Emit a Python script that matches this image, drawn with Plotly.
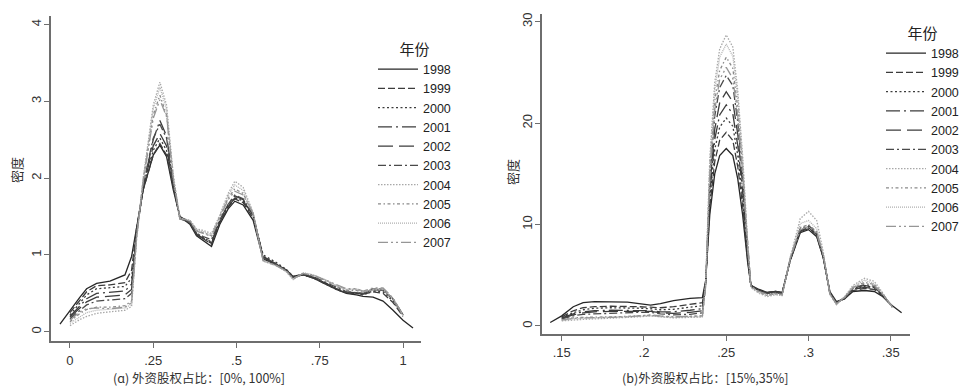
import plotly.graph_objects as go

YEARS = ["1998", "1999", "2000", "2001", "2002", "2003", "2004", "2005", "2006", "2007"]

# ---------- panel (a): share 0..1 ----------
X_A = [-0.03, 0.0, 0.03, 0.05, 0.08, 0.12, 0.165, 0.185, 0.20, 0.22, 0.25, 0.27, 0.29, 0.31,
       0.33, 0.36, 0.38, 0.40, 0.425, 0.45, 0.475, 0.495, 0.52, 0.55, 0.58, 0.62, 0.65, 0.67,
       0.70, 0.73, 0.77, 0.80, 0.83, 0.86, 0.88, 0.91, 0.94, 0.97, 1.0, 1.03]
A_1998 = [0.10, 0.28, 0.45, 0.56, 0.63, 0.66, 0.74, 0.98, 1.35, 1.85, 2.30, 2.43, 2.28, 1.85, 1.50, 1.40,
          1.25, 1.19, 1.11, 1.40, 1.60, 1.70, 1.65, 1.45, 0.95, 0.87, 0.80, 0.72, 0.75, 0.70, 0.63, 0.55,
          0.50, 0.48, 0.46, 0.45, 0.40, 0.28, 0.15, 0.05]
A_1999 = [None, 0.25, 0.42, 0.52, 0.60, 0.61, 0.64, 0.80, 1.35, 1.85, 2.30, 2.45, 2.30, 1.88, 1.50, 1.42,
          1.27, 1.21, 1.14, 1.42, 1.62, 1.73, 1.68, 1.48, 0.98, 0.88, 0.80, 0.71, 0.74, 0.70, 0.62, 0.56,
          0.52, 0.50, 0.49, 0.52, 0.50, 0.38, 0.20, None]
A_2000 = [None, 0.22, 0.38, 0.48, 0.56, 0.57, 0.59, 0.70, 1.32, 1.86, 2.36, 2.52, 2.36, 1.92, 1.50, 1.43,
          1.28, 1.23, 1.16, 1.44, 1.64, 1.75, 1.70, 1.50, 1.00, 0.90, 0.81, 0.72, 0.74, 0.70, 0.62, 0.55,
          0.51, 0.50, 0.48, 0.53, 0.52, 0.40, 0.21, None]
A_2001 = [None, 0.20, 0.34, 0.43, 0.50, 0.51, 0.53, 0.62, 1.30, 1.90, 2.50, 2.75, 2.55, 1.95, 1.48, 1.42,
          1.27, 1.22, 1.17, 1.45, 1.66, 1.77, 1.72, 1.52, 0.98, 0.88, 0.80, 0.71, 0.75, 0.71, 0.63, 0.56,
          0.52, 0.51, 0.50, 0.55, 0.54, 0.42, 0.22, None]
A_2002 = [None, 0.19, 0.31, 0.39, 0.45, 0.46, 0.48, 0.55, 1.28, 1.88, 2.42, 2.58, 2.42, 1.90, 1.48, 1.43,
          1.26, 1.21, 1.15, 1.43, 1.63, 1.74, 1.70, 1.52, 0.97, 0.87, 0.80, 0.71, 0.74, 0.70, 0.62, 0.55,
          0.51, 0.49, 0.49, 0.56, 0.55, 0.42, 0.22, None]
A_2003 = [None, 0.17, 0.28, 0.35, 0.40, 0.41, 0.43, 0.50, 1.30, 1.92, 2.52, 2.70, 2.52, 1.93, 1.47, 1.42,
          1.28, 1.24, 1.20, 1.46, 1.66, 1.78, 1.73, 1.52, 0.96, 0.87, 0.80, 0.70, 0.75, 0.72, 0.64, 0.57,
          0.52, 0.51, 0.50, 0.55, 0.55, 0.43, 0.22, None]
A_2004 = [None, 0.08, 0.16, 0.20, 0.24, 0.26, 0.28, 0.33, 1.20, 2.00, 2.95, 3.25, 2.95, 2.05, 1.48, 1.45,
          1.34, 1.32, 1.28, 1.52, 1.80, 1.96, 1.88, 1.55, 0.92, 0.86, 0.78, 0.68, 0.76, 0.74, 0.67, 0.60,
          0.55, 0.55, 0.52, 0.55, 0.55, 0.43, 0.22, None]
A_2005 = [None, 0.13, 0.24, 0.29, 0.32, 0.32, 0.34, 0.40, 1.25, 1.98, 2.82, 3.08, 2.82, 2.00, 1.47, 1.44,
          1.32, 1.29, 1.25, 1.50, 1.74, 1.86, 1.80, 1.54, 0.93, 0.86, 0.79, 0.69, 0.76, 0.73, 0.66, 0.59,
          0.54, 0.54, 0.51, 0.56, 0.56, 0.43, 0.21, None]
A_2006 = [None, 0.11, 0.20, 0.25, 0.28, 0.29, 0.31, 0.36, 1.22, 2.00, 2.90, 3.18, 2.90, 2.02, 1.48, 1.45,
          1.33, 1.30, 1.26, 1.51, 1.77, 1.91, 1.84, 1.55, 0.92, 0.86, 0.78, 0.68, 0.77, 0.74, 0.67, 0.60,
          0.55, 0.56, 0.52, 0.55, 0.55, 0.43, 0.21, None]
A_2007 = [None, 0.15, 0.26, 0.30, 0.31, 0.30, 0.32, 0.38, 1.22, 1.96, 2.78, 3.02, 2.80, 2.00, 1.47, 1.45,
          1.31, 1.28, 1.24, 1.49, 1.72, 1.83, 1.78, 1.54, 0.93, 0.86, 0.79, 0.69, 0.76, 0.74, 0.67, 0.61,
          0.56, 0.56, 0.53, 0.57, 0.57, 0.44, 0.22, None]

# ---------- panel (b): share 0.15..0.35 ----------
X_B = [0.143, 0.150, 0.157, 0.163, 0.170, 0.180, 0.190, 0.197, 0.204, 0.210, 0.218, 0.228, 0.2355,
       0.2375, 0.240, 0.243, 0.246, 0.250, 0.254, 0.257, 0.260, 0.263, 0.265, 0.270, 0.275, 0.280,
       0.284, 0.289, 0.295, 0.300, 0.305, 0.309, 0.313, 0.317, 0.322, 0.327, 0.334, 0.340, 0.345,
       0.351, 0.3566]
B_1998 = [0.35, 1.0, 1.9, 2.3, 2.4, 2.4, 2.35, 2.2, 2.05, 2.2, 2.5, 2.72, 2.8,
          4.5, 11.0, 15.0, 16.8, 17.5, 16.8, 14.5, 10.9, 6.3,
          4.0, 3.6, 3.3, 3.4, 3.3, 6.5, 9.2, 9.5, 8.8, 6.7, 3.4, 2.4, 2.7, 3.4, 3.5, 3.4, 2.9, 2.0, 1.3]
B_1999 = [None, 0.9, 1.5, 1.8, 1.9, 1.95, 1.95, 1.9, 1.85, 1.8, 1.9, 2.1, 2.3,
          4.3, 11.7, 16.2, 18.3, 19.1, 18.3, 15.7, 11.8, 6.6,
          4.0, 3.5, 3.3, 3.4, 3.3, 6.6, 9.4, 9.7, 9.0, 6.8, 3.3, 2.3, 2.7, 3.5, 3.7, 3.6, 3.0, 1.9, None]
B_2000 = [None, 0.85, 1.3, 1.6, 1.75, 1.8, 1.8, 1.75, 1.7, 1.6, 1.65, 1.85, 2.0,
          4.2, 12.4, 17.4, 19.6, 20.5, 19.7, 16.8, 12.5, 6.8,
          3.9, 3.5, 3.2, 3.3, 3.2, 6.6, 9.5, 9.8, 9.1, 6.8, 3.2, 2.3, 2.8, 3.6, 3.9, 3.8, 3.1, 1.9, None]
B_2001 = [None, 0.8, 1.2, 1.4, 1.5, 1.55, 1.55, 1.55, 1.5, 1.4, 1.4, 1.55, 1.7,
          4.1, 13.0, 18.4, 20.8, 21.8, 20.9, 17.8, 13.2, 7.0,
          4.0, 3.5, 3.3, 3.4, 3.3, 6.5, 9.3, 9.6, 8.9, 6.7, 3.3, 2.3, 2.7, 3.6, 3.8, 3.7, 3.0, 1.9, None]
B_2002 = [None, 0.75, 1.1, 1.3, 1.4, 1.45, 1.45, 1.5, 1.45, 1.3, 1.25, 1.35, 1.5,
          4.1, 13.6, 19.4, 22.0, 23.1, 22.1, 18.9, 13.8, 7.3,
          3.9, 3.5, 3.2, 3.3, 3.2, 6.6, 9.4, 9.7, 9.0, 6.8, 3.2, 2.2, 2.8, 3.7, 4.0, 3.8, 3.1, 1.9, None]
B_2003 = [None, 0.7, 1.0, 1.15, 1.2, 1.25, 1.3, 1.35, 1.35, 1.2, 1.1, 1.15, 1.3,
          4.1, 14.4, 20.7, 23.5, 24.7, 23.7, 20.1, 14.7, 7.6,
          3.9, 3.4, 3.2, 3.3, 3.2, 6.7, 9.6, 9.9, 9.2, 6.9, 3.2, 2.2, 2.8, 3.7, 4.1, 3.9, 3.1, 1.9, None]
B_2004 = [None, 0.5, 0.6, 0.65, 0.7, 0.75, 0.8, 0.9, 1.0, 0.9, 0.8, 0.85, 0.9,
          4.2, 16.5, 24.0, 27.3, 28.7, 27.5, 23.2, 16.7, 8.3,
          3.8, 3.2, 2.9, 3.1, 3.0, 6.8, 10.6, 11.3, 10.4, 7.3, 3.1, 2.1, 2.9, 4.0, 4.7, 4.4, 3.3, 1.8, None]
B_2005 = [None, 0.6, 0.8, 0.85, 0.9, 0.9, 0.95, 1.0, 1.05, 0.95, 0.9, 0.95, 1.0,
          4.1, 15.3, 22.2, 25.2, 26.5, 25.4, 21.5, 15.6, 7.9,
          3.9, 3.3, 3.0, 3.2, 3.1, 6.7, 9.7, 10.0, 9.3, 7.0, 3.2, 2.2, 2.8, 3.8, 4.3, 4.1, 3.2, 1.9, None]
B_2006 = [None, 0.55, 0.7, 0.75, 0.8, 0.85, 0.9, 0.95, 1.0, 0.9, 0.85, 0.9, 0.9,
          4.1, 16.0, 23.2, 26.5, 27.8, 26.6, 22.5, 16.3, 8.1,
          3.8, 3.3, 3.0, 3.1, 3.0, 6.8, 10.1, 10.4, 9.6, 7.1, 3.1, 2.1, 2.9, 3.9, 4.5, 4.2, 3.2, 1.8, None]
B_2007 = [None, 0.6, 0.75, 0.8, 0.85, 0.85, 0.9, 1.0, 1.1, 1.0, 0.9, 0.95, 1.0,
          3.9, 14.7, 21.3, 24.3, 25.5, 24.4, 20.7, 15.1, 7.7,
          3.9, 3.4, 3.1, 3.2, 3.1, 6.7, 9.5, 9.8, 9.1, 6.9, 3.2, 2.2, 2.8, 3.8, 4.2, 4.0, 3.1, 1.9, None]

A_TICKS = [0, 0.25, 0.5, 0.75, 1]
A_TICKTEXT = ["0", ".25", ".5", ".75", "1"]
A_YTICKS = [0, 1, 2, 3, 4]
B_TICKS = [0.15, 0.2, 0.25, 0.3, 0.35]
B_TICKTEXT = [".15", ".2", ".25", ".3", ".35"]
B_YTICKS = [0, 10, 20, 30]

A_SERIES = [A_1998, A_1999, A_2000, A_2001, A_2002, A_2003, A_2004, A_2005, A_2006, A_2007]
B_SERIES = [B_1998, B_1999, B_2000, B_2001, B_2002, B_2003, B_2004, B_2005, B_2006, B_2007]

STYLES = [
    ("#262626", "solid"),
    ("#3c3c3c", "7px,3px"),
    ("#3c3c3c", "2px,2.5px"),
    ("#3c3c3c", "14px,4px,2px,4px"),
    ("#3c3c3c", "15px,6px"),
    ("#4a4a4a", "8px,3px,2px,3px"),
    ("#a8a8a8", "1.5px,1.5px"),
    ("#8a8a8a", "3px,2.5px,1.5px,2.5px"),
    ("#b0b0b0", "1px,1px"),
    ("#969696", "10px,3px,2px,3px,2px,3px"),
]

fig = go.Figure()
for yr, ys, (col, dash) in zip(YEARS, A_SERIES, STYLES):
    fig.add_trace(go.Scatter(x=X_A, y=ys, mode="lines", name=yr, xaxis="x", yaxis="y",
                             line=dict(color=col, width=1.3, dash=dash), legend="legend",
                             connectgaps=False))
for yr, ys, (col, dash) in zip(YEARS, B_SERIES, STYLES):
    fig.add_trace(go.Scatter(x=X_B, y=ys, mode="lines", name=yr, xaxis="x2", yaxis="y2",
                             line=dict(color=col, width=1.3, dash=dash), legend="legend2",
                             connectgaps=False))

W, H = 964, 388
tickfont = dict(family="Liberation Sans, Arial, sans-serif", size=13, color="#333333")
axcommon = dict(showline=True, linecolor="#6e6e6e", linewidth=1.5, ticks="outside", ticklen=5,
                tickcolor="#6e6e6e", tickwidth=1.3, showgrid=False, zeroline=False,
                tickfont=tickfont, mirror=False, fixedrange=True)

def legend_cfg(x, ypx, anchor):
    return dict(x=x, y=1 - ypx / H, xanchor=anchor, yanchor="top",
                bgcolor="rgba(0,0,0,0)", borderwidth=0, itemwidth=40,
                font=dict(family="Liberation Sans, Arial, sans-serif", size=12.5, color="#222222"),
                title=dict(text="年份", side="top center",
                           font=dict(family="Noto Sans CJK SC", size=15, color="#222222")),
                traceorder="normal")

fig.update_layout(
    width=W, height=H, margin=dict(l=0, r=0, t=0, b=0),
    paper_bgcolor="white", plot_bgcolor="white", showlegend=True,
    xaxis=dict(domain=[51 / W, 421 / W], range=[-0.057, 1.054], anchor="y",
               tickvals=A_TICKS, ticktext=A_TICKTEXT, ticklabelstandoff=2, **axcommon),
    yaxis=dict(domain=[1 - 341 / H, 1 - 16 / H], range=[-0.12, 4.11], anchor="x",
               tickvals=A_YTICKS, tickangle=-90, ticklabelstandoff=-2, **axcommon),
    xaxis2=dict(domain=[542 / W, 910 / W], range=[0.138, 0.3617], anchor="y2",
                tickvals=B_TICKS, ticktext=B_TICKTEXT, ticklabelstandoff=1, **axcommon),
    yaxis2=dict(domain=[1 - 334 / H, 1 - 14 / H], range=[-0.79, 30.76], anchor="x2",
                tickvals=B_YTICKS, tickangle=-90, ticklabelstandoff=-2, **axcommon),
    legend=legend_cfg(373 / W, 35, "left"),
    legend2=legend_cfg(1.0, 19, "right"),
)

cjk = "Noto Sans CJK SC"
fig.add_annotation(text="密度", x=16 / W, y=1 - 170 / H, xref="paper", yref="paper",
                   xanchor="center", yanchor="middle",
                   textangle=-90, showarrow=False, font=dict(family=cjk, size=13, color="#333333"))
fig.add_annotation(text="密度", x=512 / W, y=1 - 172 / H, xref="paper", yref="paper",
                   xanchor="center", yanchor="middle",
                   textangle=-90, showarrow=False, font=dict(family=cjk, size=13, color="#333333"))
fig.add_annotation(text="(ɑ) 外资股权占比：[0%, 100%]", x=199 / W, y=0, xref="paper",
                   yref="paper", xanchor="center", yanchor="bottom", showarrow=False, borderpad=0,
                   font=dict(family=cjk, size=12.5, color="#333333"))
fig.add_annotation(text="(b)外资股权占比：[15%,35%]", x=705 / W, y=0, xref="paper",
                   yref="paper", xanchor="center", yanchor="bottom", showarrow=False, borderpad=0,
                   font=dict(family=cjk, size=12.5, color="#333333"))

fig.write_html("out.html", config={"displayModeBar": False},
               post_script="document.body.style.margin='0';document.body.style.padding='0';")
